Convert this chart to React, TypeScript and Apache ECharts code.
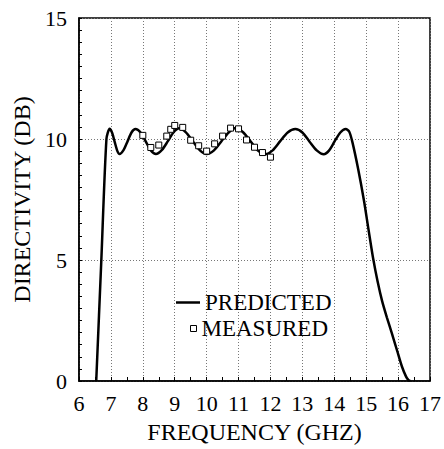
import React, { useEffect, useRef } from "react";
import * as echarts from "echarts";

// Predicted directivity curve (frequency GHz, directivity dB)
const predictedFreq = [
  6.54, 6.7, 6.86, 6.96, 7.04, 7.12, 7.2, 7.27, 7.4, 7.52, 7.65, 7.77,
  7.93, 8.09, 8.25, 8.41, 8.6, 8.78, 8.96, 9.14, 9.35, 9.57, 9.79, 10.0,
  10.23, 10.46, 10.69, 10.92, 11.15, 11.38, 11.6, 11.83, 12.07, 12.3, 12.54,
  12.78, 13.0, 13.22, 13.45, 13.67, 13.84, 14.01, 14.19, 14.36, 14.47, 14.57,
  14.75, 14.93, 15.08, 15.22, 15.36, 15.5, 15.65, 15.81, 15.97, 16.12, 16.25,
  16.32, 16.38,
];
const predictedDb = [
  0, 5.0, 10.0, 10.42, 10.25, 9.87, 9.51, 9.38, 9.55, 9.9, 10.28, 10.41,
  10.27, 9.9, 9.53, 9.38, 9.55, 9.9, 10.27, 10.44, 10.27, 9.9, 9.53, 9.38,
  9.53, 9.9, 10.27, 10.45, 10.27, 9.9, 9.53, 9.37, 9.53, 9.9, 10.27, 10.41,
  10.27, 9.9, 9.53, 9.37, 9.53, 9.9, 10.27, 10.41, 10.3, 9.86, 8.75, 7.46,
  6.2, 5.05, 4.1, 3.3, 2.62, 1.95, 1.25, 0.6, 0.18, 0.05, 0,
];

// Measured directivity points
const measuredFreq = [
  8.0, 8.25, 8.5, 8.75, 8.875, 9.0, 9.25, 9.5, 9.75, 10.0, 10.25, 10.5, 10.75,
  11.0, 11.25, 11.5, 11.75, 12.0,
];
const measuredDb = [
  10.15, 9.65, 9.75, 10.12, 10.4, 10.56, 10.48, 9.95, 9.72, 9.5, 9.8, 10.12,
  10.45, 10.42, 9.96, 9.66, 9.44, 9.25,
];

const xTitle = "FREQUENCY (GHZ)";
const yTitle = "DIRECTIVITY (DB)";
const seriesNames = ["PREDICTED", "MEASURED"];

const FONT = "Liberation Serif";

export default function App() {
  const ref = useRef<HTMLDivElement>(null);

  useEffect(() => {
    if (!ref.current) return;
    const chart = echarts.init(ref.current, undefined, { renderer: "svg" });
    const predicted = predictedFreq.map((f, i) => [f, predictedDb[i]]);
    const measured = measuredFreq.map((f, i) => [f, measuredDb[i]]);

    const gridLine = {
      show: true,
      lineStyle: { color: "#777", type: [1, 2] as any, width: 1 },
    };

    chart.setOption({
      animation: false,
      backgroundColor: "#fff",
      textStyle: { fontFamily: FONT, color: "#000" },
      grid: {
        left: 79,
        right: 11,
        top: 18,
        bottom: 68,
        show: true,
        borderColor: "#000",
        borderWidth: 1.5,
        containLabel: false,
      },
      legend: [
        {
          left: 176,
          top: 291,
          padding: 0,
          itemWidth: 24,
          itemHeight: 2.5,
          selectedMode: false,
          textStyle: { fontFamily: FONT, fontSize: 23, color: "#000", lineHeight: 23 },
          data: [
            { name: seriesNames[0], icon: "rect", itemStyle: { color: "#000", borderWidth: 0 } },
          ],
        },
        {
          left: 190,
          top: 317,
          padding: 0,
          itemWidth: 6,
          itemHeight: 6,
          selectedMode: false,
          textStyle: { fontFamily: FONT, fontSize: 23, color: "#000", lineHeight: 23 },
          data: [
            {
              name: seriesNames[1],
              icon: "rect",
              itemStyle: { color: "#fff", borderColor: "#000", borderWidth: 1 },
            },
          ],
        },
      ],
      xAxis: {
        type: "value",
        min: 6,
        max: 17,
        interval: 1,
        name: xTitle,
        nameLocation: "middle",
        nameGap: 39,
        nameTextStyle: { fontFamily: FONT, fontSize: 24, color: "#000" },
        axisLine: { show: true, lineStyle: { color: "#000", width: 1.5 } },
        axisTick: { show: true, inside: true, length: 4, lineStyle: { color: "#000" } },
        minorTick: { show: true, splitNumber: 2, length: 4, lineStyle: { color: "#000" } },
        axisLabel: { fontFamily: FONT, fontSize: 22, color: "#000", margin: 11 },
        splitLine: gridLine,
      },
      yAxis: {
        type: "value",
        min: 0,
        max: 15,
        interval: 5,
        name: yTitle,
        nameLocation: "middle",
        nameGap: 42,
        nameTextStyle: { fontFamily: FONT, fontSize: 24, color: "#000" },
        axisLine: { show: true, lineStyle: { color: "#000", width: 1.5 } },
        axisTick: { show: true, inside: true, length: 3, lineStyle: { color: "#000" } },
        minorTick: { show: true, splitNumber: 10, length: 3, lineStyle: { color: "#000" } },
        axisLabel: { fontFamily: FONT, fontSize: 22, color: "#000", margin: 12 },
        splitLine: gridLine,
      },
      series: [
        {
          name: seriesNames[0],
          type: "line",
          data: predicted,
          smooth: 0.25,
          showSymbol: false,
          symbol: "none",
          lineStyle: { color: "#000", width: 2.5 },
          itemStyle: { color: "#000" },
          z: 2,
        },
        {
          name: seriesNames[1],
          type: "scatter",
          data: measured,
          symbol: "rect",
          symbolSize: 6,
          itemStyle: { color: "#fff", borderColor: "#000", borderWidth: 1, opacity: 1 },
          z: 3,
        },
      ],
    });

    return () => chart.dispose();
  }, []);

  return (
    <div
      ref={ref}
      style={{ position: "fixed", left: 0, top: 0, width: 444, height: 449 }}
    />
  );
}
